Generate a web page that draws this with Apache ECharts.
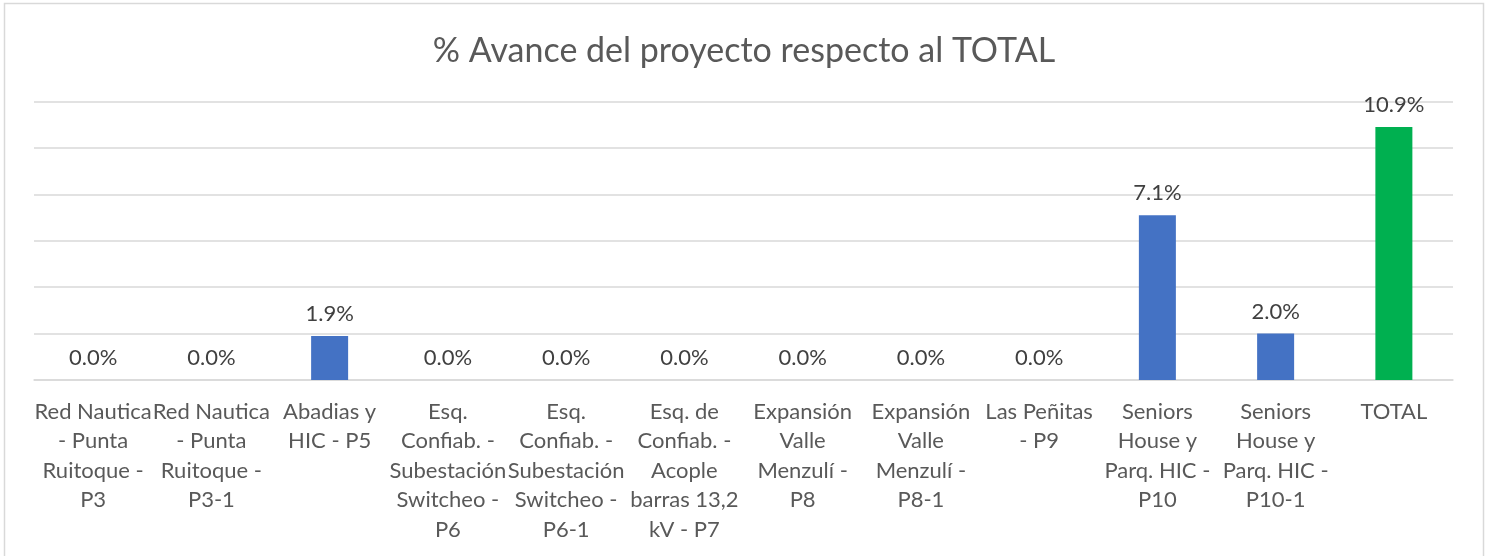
<!DOCTYPE html>
<html>
<head>
<meta charset="utf-8">
<script src="https://cdn.jsdelivr.net/npm/echarts@6/dist/echarts.min.js"></script>
<style>
  html, body { margin: 0; padding: 0; background: #ffffff; }
  #chart { width: 1488px; height: 556px; }
</style>
</head>
<body>
<div id="chart"></div>
<script>
const categories = [
  'Red Nautica\n- Punta\nRuitoque -\nP3',
  'Red Nautica\n- Punta\nRuitoque -\nP3-1',
  'Abadias y\nHIC - P5',
  'Esq.\nConfiab. -\nSubestación\nSwitcheo -\nP6',
  'Esq.\nConfiab. -\nSubestación\nSwitcheo -\nP6-1',
  'Esq. de\nConfiab. -\nAcople\nbarras 13,2\nkV - P7',
  'Expansión\nValle\nMenzulí -\nP8',
  'Expansión\nValle\nMenzulí -\nP8-1',
  'Las Peñitas\n- P9',
  'Seniors\nHouse y\nParq. HIC -\nP10',
  'Seniors\nHouse y\nParq. HIC -\nP10-1',
  'TOTAL'
]
const values = [0, 0, 1.9, 0, 0, 0, 0, 0, 0, 7.1, 2.0, 10.9]
const yTicks = [0, 2, 4, 6, 8, 10, 12]

const chart = echarts.init(document.getElementById('chart'))
const fontFamily = 'Lato, "Open Sans", sans-serif'

const option = {
  animation: false,
  textStyle: { fontFamily: fontFamily },
  graphic: [
    {
      type: 'rect',
      shape: { x: 4.5, y: 3.5, width: 1479, height: 620 },
      style: { fill: 'none', stroke: '#d9d9d9', lineWidth: 1.5 },
      silent: true
    }
  ],
  title: {
    text: '% Avance del proyecto respecto al TOTAL',
    left: 'center',
    top: 29,
    textStyle: {
      fontFamily: fontFamily,
      fontSize: 34,
      fontWeight: 'normal',
      color: '#595959'
    }
  },
  grid: {
    left: 34,
    right: 35,
    top: 101.6,
    bottom: 176
  },
  xAxis: {
    type: 'category',
    data: categories,
    axisTick: { show: false },
    axisLine: { lineStyle: { color: '#d9d9d9', width: 1.5 } },
    axisLabel: {
      interval: 0,
      color: '#595959',
      fontSize: 22,
      lineHeight: 29.5,
      margin: 17,
      fontFamily: fontFamily
    }
  },
  yAxis: {
    type: 'value',
    min: yTicks[0],
    max: yTicks[yTicks.length - 1],
    interval: yTicks[1] - yTicks[0],
    axisLabel: { show: false },
    axisLine: { show: false },
    axisTick: { show: false },
    splitLine: { lineStyle: { color: '#d9d9d9', width: 1.5 } }
  },
  series: [
    {
      type: 'bar',
      barWidth: 37,
      data: values.map((v, i) => ({
        value: v,
        itemStyle: { color: i === values.length - 1 ? '#00b050' : '#4472c4' }
      })),
      label: {
        show: true,
        position: 'top',
        distance: 11,
        color: '#404040',
        fontSize: 22,
        fontFamily: fontFamily,
        formatter: p => p.value.toFixed(1) + '%'
      }
    }
  ]
}

chart.setOption(option)
</script>
</body>
</html>
